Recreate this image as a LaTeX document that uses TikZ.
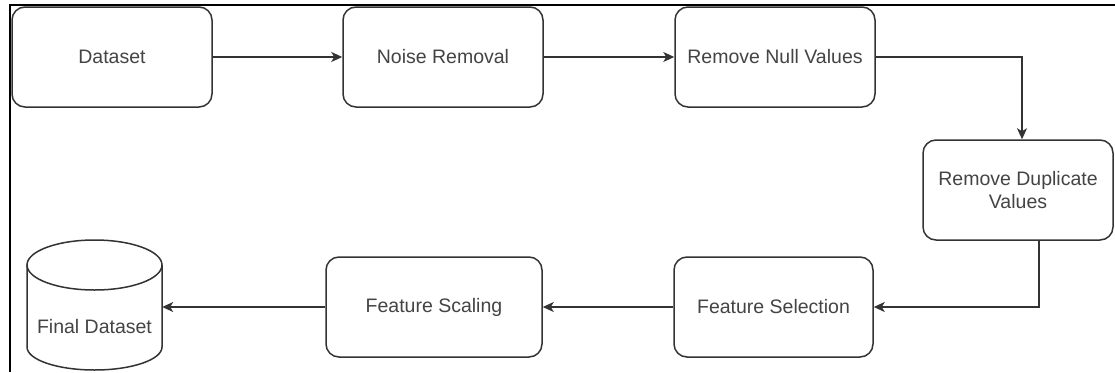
\documentclass[tikz,border=0pt]{standalone}
\usepackage{fontspec}
\setmainfont{Liberation Sans}
\usetikzlibrary{arrows.meta}
\definecolor{linecol}{HTML}{333333}
\definecolor{textcol}{HTML}{444444}
\tikzset{
  procbox/.style={draw=linecol, line width=1.5pt, rounded corners=13pt, inner sep=0pt,
    align=center, text=textcol, font=\fontsize{19.5}{23.5}\selectfont},
  conn/.style={draw=linecol, line width=1.5pt, -{Stealth[length=11pt,width=10pt,inset=3pt]}},
}
\begin{document}
\begin{tikzpicture}[x=1pt,y=-1pt]
\useasboundingbox (0,0) rectangle (1115,372);
\fill[white] (0,0) rectangle (1115,372);
% frame
\draw[black, line width=2.2pt] (10,372) -- (10,5) -- (1115,5);
% boxes
\node[procbox, minimum width=200pt, minimum height=100pt] (ds) at (112,57) {Dataset};
\node[procbox, minimum width=200pt, minimum height=100pt] (nr) at (443,57) {Noise Removal};
\node[procbox, minimum width=200pt, minimum height=100pt] (nv) at (775,57) {Remove Null Values};
\node[procbox, minimum width=190pt, minimum height=100pt] (dv) at (1018,190) {Remove Duplicate\\Values};
\node[procbox, minimum width=199pt, minimum height=100pt] (fsel) at (773.5,307) {Feature Selection};
\node[procbox, minimum width=216pt, minimum height=100pt] (fsc) at (434,307) {Feature Scaling};
% cylinder
\node[inner sep=0pt, minimum width=135pt, minimum height=130pt] (fd) at (94.5,305) {};
\draw[linecol, line width=1.5pt]
  (27,265) -- (27,347) arc[start angle=180, end angle=360, x radius=67.5pt, y radius=23pt]
  -- (162,265);
\draw[linecol, line width=1.5pt] (94.5,265) ellipse[x radius=67.5pt, y radius=25pt];
\node[text=textcol, font=\fontsize{19.5}{23.5}\selectfont] (fdt) at (94.5,327) {Final Dataset};
% connectors
\draw[conn] (ds.east) -- (nr.west);
\draw[conn] (nr.east) -- (nv.west);
\coordinate (c1) at (1022,57);
\draw[conn] (nv.east) -- (c1) -- (c1 |- dv.north);
\coordinate (c2) at (1039,240);
\draw[conn] (c2) -- (c2 |- fsel.east) -- (fsel.east);
\draw[conn] (fsel.west) -- (fsc.east);
\draw[conn] (fsc.west) -- (fd.east |- fsc.west);
\end{tikzpicture}
\end{document}
